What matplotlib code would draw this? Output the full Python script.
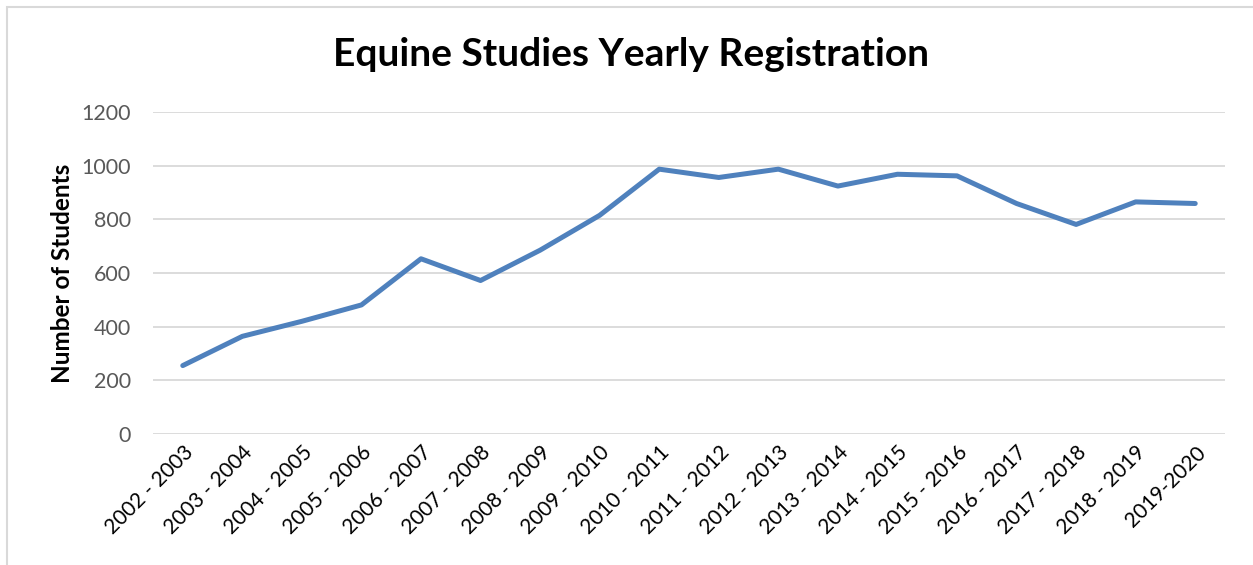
import matplotlib
matplotlib.use("Agg")
from matplotlib import pyplot as plt
from matplotlib.patches import Rectangle

years = ["2002 - 2003", "2003 - 2004", "2004 - 2005", "2005 - 2006", "2006 - 2007",
         "2007 - 2008", "2008 - 2009", "2009 - 2010", "2010 - 2011", "2011 - 2012",
         "2012 - 2013", "2013 - 2014", "2014 - 2015", "2015 - 2016", "2016 - 2017",
         "2017 - 2018", "2018 - 2019", "2019-2020"]
students = [255, 364, 420, 481, 653, 572, 685, 815, 987, 956,
            987, 924, 968, 962, 859, 781, 865, 859]
yticks = [0, 200, 400, 600, 800, 1000, 1200]

plt.rcParams['font.family'] = ['Lato', 'DejaVu Sans']

W, H = 1253, 565
fig = plt.figure(figsize=(W / 100, H / 100), dpi=100)
ax = fig.add_axes([153 / W, 1 - 434 / H, (1225 - 153) / W, (434 - 112) / H])

x = list(range(len(years)))
ax.plot(x, students, color="#4f81bd", linewidth=3.6, solid_capstyle="round",
        solid_joinstyle="round", zorder=3)

ax.set_xlim(-0.5, len(years) - 0.5)
ax.set_ylim(0, 1200)
ax.set_yticks(yticks)
ax.set_yticklabels([str(v) for v in yticks], fontsize=15.5, color="#595959")
ax.set_xticks(x)
ax.set_xticklabels(years, rotation=45, ha="right", rotation_mode="anchor",
                   fontsize=15, color="black")
ax.tick_params(axis="both", length=0)
ax.tick_params(axis="y", pad=16)
ax.tick_params(axis="x", pad=6)
ax.grid(axis="y", color="#d9d9d9", linewidth=1.3)
ax.set_axisbelow(True)
for s in ax.spines.values():
    s.set_visible(False)

ax.set_ylabel("Number of Students", fontsize=17.5, fontweight="bold", labelpad=5)
fig.text(631 / W, 1 - 55 / H, "Equine Studies Yearly Registration", fontsize=28,
         fontweight="bold", ha="center", va="center")

fig.patches.append(Rectangle((7 / W, -0.1), 1.2, 1 - 7 / H + 0.1, transform=fig.transFigure,
                             fill=False, edgecolor="#d9d9d9", linewidth=1.5))

fig.savefig("out.png", dpi=100)
